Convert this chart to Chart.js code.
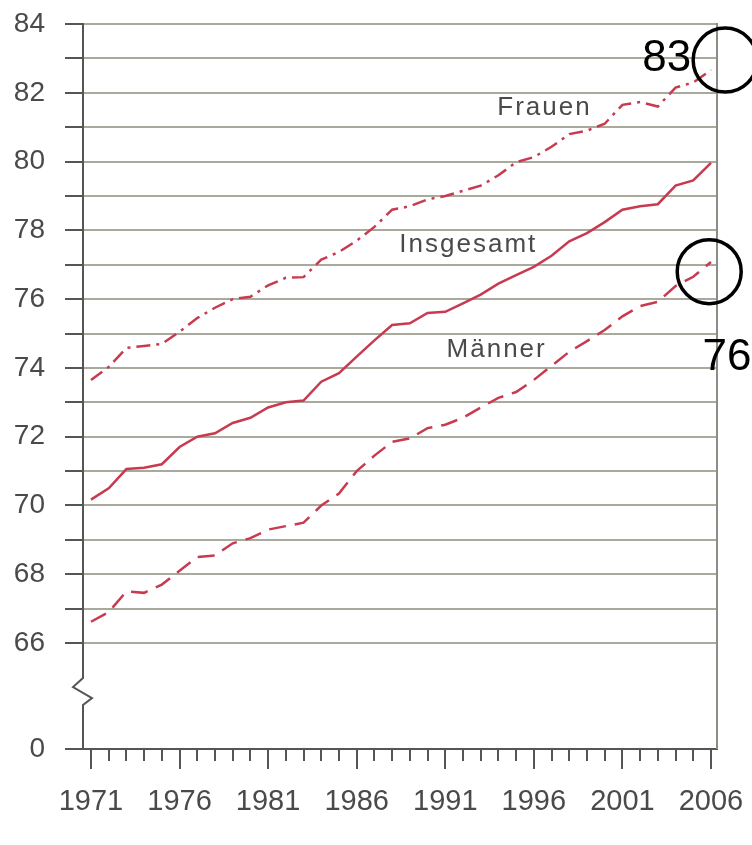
<!DOCTYPE html>
<html>
<head>
<meta charset="utf-8">
<script src="https://cdn.jsdelivr.net/npm/chart.js@4"></script>
<style>
  html, body { margin: 0; padding: 0; background: #fff; }
  #wrap { position: relative; width: 752px; height: 845px; }
</style>
</head>
<body>
<div id="wrap"><canvas id="chart" width="752" height="845"></canvas></div>
<script>
// Jahre und Lebenserwartung
const years = [1971, 1972, 1973, 1974, 1975, 1976, 1977, 1978, 1979, 1980,
  1981, 1982, 1983, 1984, 1985, 1986, 1987, 1988, 1989, 1990,
  1991, 1992, 1993, 1994, 1995, 1996, 1997, 1998, 1999, 2000,
  2001, 2002, 2003, 2004, 2005, 2006];

const frauen = [73.65, 74.03, 74.58, 74.64, 74.7, 75.05, 75.45, 75.75, 76.0, 76.07,
  76.4, 76.62, 76.64, 77.15, 77.37, 77.7, 78.1, 78.6, 78.7, 78.9,
  79.0, 79.15, 79.3, 79.6, 79.98, 80.13, 80.43, 80.8, 80.9, 81.1,
  81.65, 81.73, 81.6, 82.15, 82.3, 82.66];

const insgesamt = [70.17, 70.5, 71.06, 71.1, 71.2, 71.7, 72.0, 72.1, 72.4, 72.55,
  72.85, 73.0, 73.05, 73.6, 73.85, 74.33, 74.8, 75.25, 75.3, 75.6,
  75.63, 75.88, 76.13, 76.45, 76.7, 76.94, 77.26, 77.68, 77.92, 78.24,
  78.6, 78.7, 78.76, 79.3, 79.45, 79.96];

const maenner = [66.62, 66.9, 67.5, 67.46, 67.7, 68.1, 68.5, 68.55, 68.9, 69.05,
  69.3, 69.4, 69.5, 70.0, 70.35, 71.0, 71.45, 71.85, 71.95, 72.25,
  72.35, 72.55, 72.85, 73.13, 73.3, 73.65, 74.06, 74.47, 74.78, 75.1,
  75.5, 75.8, 75.92, 76.38, 76.65, 77.08];

const seriesNames = ["Frauen", "Insgesamt", "Männer"];

// Achsenbeschriftungen
const xTickLabels = [1971, 1976, 1981, 1986, 1991, 1996, 2001, 2006];
const yTickValues = [66, 67, 68, 69, 70, 71, 72, 73, 74, 75, 76, 77, 78, 79, 80, 81, 82, 83, 84];

// Achsenbruch: unterster Wert wird als "0" beschriftet
const Y_MIN = 62.92;
const Y_MAX = 84;

const RED = "#c73a50";
const FONT = "'Liberation Sans', Arial, sans-serif";
const TEXT = "#4a4a4a";

// Beschriftungen der Linien (Position in Datenkoordinaten)
const lineLabels = [
  { text: seriesNames[0], x: 1996.6, y: 81.56 },
  { text: seriesNames[1], x: 1992.3, y: 77.58 },
  { text: seriesNames[2], x: 1993.9, y: 74.52 },
];

// Handschriftliche Markierungen
const notes = [
  { text: "83", x: 2003.5, y: 83.0, cx: 2006.8, cy: 82.95 },
  { text: "76", x: 2006.9, y: 74.29, cx: 2005.9, cy: 76.8 },
];

function toPoints(values) {
  return years.map((yr, i) => ({ x: yr, y: values[i] }));
}

// Überstehende Beschriftungen sollen die Zeichenfläche nicht verschieben
function noPadding(s) {
  s.paddingTop = 0;
  s.paddingBottom = 0;
  s.paddingLeft = 0;
  s.paddingRight = 0;
}

const framePlugin = {
  id: "frame",
  afterDraw(chart) {
    const { ctx, chartArea, scales } = chart;
    const y = scales.y;
    const left = chartArea.left;
    const breakY = y.getPixelForValue(66) + 35;

    ctx.save();
    // rechte Begrenzung
    ctx.strokeStyle = "#8d8d84";
    ctx.lineWidth = 2;
    ctx.beginPath();
    ctx.moveTo(chartArea.right, chartArea.top - 1);
    ctx.lineTo(chartArea.right, chartArea.bottom);
    ctx.stroke();

    // y-Achse mit Bruch
    ctx.strokeStyle = "#555";
    ctx.lineWidth = 2;
    ctx.beginPath();
    ctx.moveTo(left, chartArea.top - 1);
    ctx.lineTo(left, breakY);
    ctx.lineTo(left - 10, breakY + 9);
    ctx.lineTo(left + 9, breakY + 20);
    ctx.lineTo(left, breakY + 27);
    ctx.lineTo(left, chartArea.bottom);
    ctx.stroke();

    // Linienbeschriftungen
    ctx.font = "26px " + FONT;
    ctx.fillStyle = TEXT;
    ctx.textAlign = "center";
    ctx.textBaseline = "middle";
    ctx.letterSpacing = "2px";
    lineLabels.forEach((l) => {
      ctx.fillText(l.text, scales.x.getPixelForValue(l.x), y.getPixelForValue(l.y));
    });

    // Markierungen
    ctx.letterSpacing = "0px";
    ctx.font = "44px " + FONT;
    ctx.fillStyle = "#000";
    ctx.strokeStyle = "#000";
    ctx.lineWidth = 3.5;
    notes.forEach((n) => {
      ctx.fillText(n.text, scales.x.getPixelForValue(n.x), y.getPixelForValue(n.y));
      ctx.beginPath();
      ctx.arc(scales.x.getPixelForValue(n.cx), y.getPixelForValue(n.cy), 32, 0, Math.PI * 2);
      ctx.stroke();
    });
    ctx.restore();
  },
};

window.addEventListener("load", function () {
  const ctx = document.getElementById("chart").getContext("2d");
  new Chart(ctx, {
    type: "line",
    data: {
      datasets: [
        {
          label: seriesNames[0],
          data: toPoints(frauen),
          borderColor: RED,
          borderWidth: 2.5,
          borderDash: [14, 6, 3, 6],
          pointRadius: 0,
          fill: false,
        },
        {
          label: seriesNames[1],
          data: toPoints(insgesamt),
          borderColor: RED,
          borderWidth: 2.5,
          pointRadius: 0,
          fill: false,
        },
        {
          label: seriesNames[2],
          data: toPoints(maenner),
          borderColor: RED,
          borderWidth: 2.5,
          borderDash: [17, 9],
          pointRadius: 0,
          fill: false,
        },
      ],
    },
    options: {
      responsive: false,
      animation: false,
      layout: { padding: { top: 24, right: 35, left: 0, bottom: 0 } },
      plugins: { legend: { display: false }, tooltip: { enabled: false } },
      scales: {
        x: {
          type: "linear",
          min: 1970.55,
          max: 2006.34,
          afterBuildTicks: (s) => { s.ticks = xTickLabels.map((v) => ({ value: v })); },
          afterFit: (s) => { s.height = 96; noPadding(s); },
          grid: { drawOnChartArea: false, tickLength: 20, tickColor: "#555", lineWidth: 2 },
          border: { display: true, color: "#555", width: 2 },
          ticks: {
            color: TEXT,
            padding: 16,
            maxRotation: 0,
            font: { family: FONT, size: 29 },
            callback: (v) => String(v),
          },
        },
        x2: {
          type: "linear",
          position: "bottom",
          weight: -1,
          min: 1970.55,
          max: 2006.34,
          afterBuildTicks: (s) => { s.ticks = years.map((v) => ({ value: v })); },
          afterFit: (s) => { s.height = 0; noPadding(s); },
          grid: { drawOnChartArea: false, tickLength: 12, tickColor: "#555", lineWidth: 2 },
          border: { display: false },
          ticks: { display: false },
        },
        y: {
          type: "linear",
          min: Y_MIN,
          max: Y_MAX,
          afterBuildTicks: (s) => {
            s.ticks = [{ value: Y_MIN }].concat(yTickValues.map((v) => ({ value: v })));
          },
          afterFit: (s) => { s.width = 83; noPadding(s); },
          grid: {
            color: (c) => (c.tick && c.tick.value === Y_MIN ? "#555" : "#aaaa9c"),
            tickColor: "#555",
            lineWidth: 2,
            tickLength: 18,
          },
          border: { display: false },
          ticks: {
            color: TEXT,
            padding: 20,
            autoSkip: false,
            font: { family: FONT, size: 28 },
            callback: (v) => {
              if (v === Y_MIN) return "0";
              return v % 2 === 0 ? String(v) : "";
            },
          },
        },
      },
    },
    plugins: [framePlugin],
  });
});
</script>
</body>
</html>
